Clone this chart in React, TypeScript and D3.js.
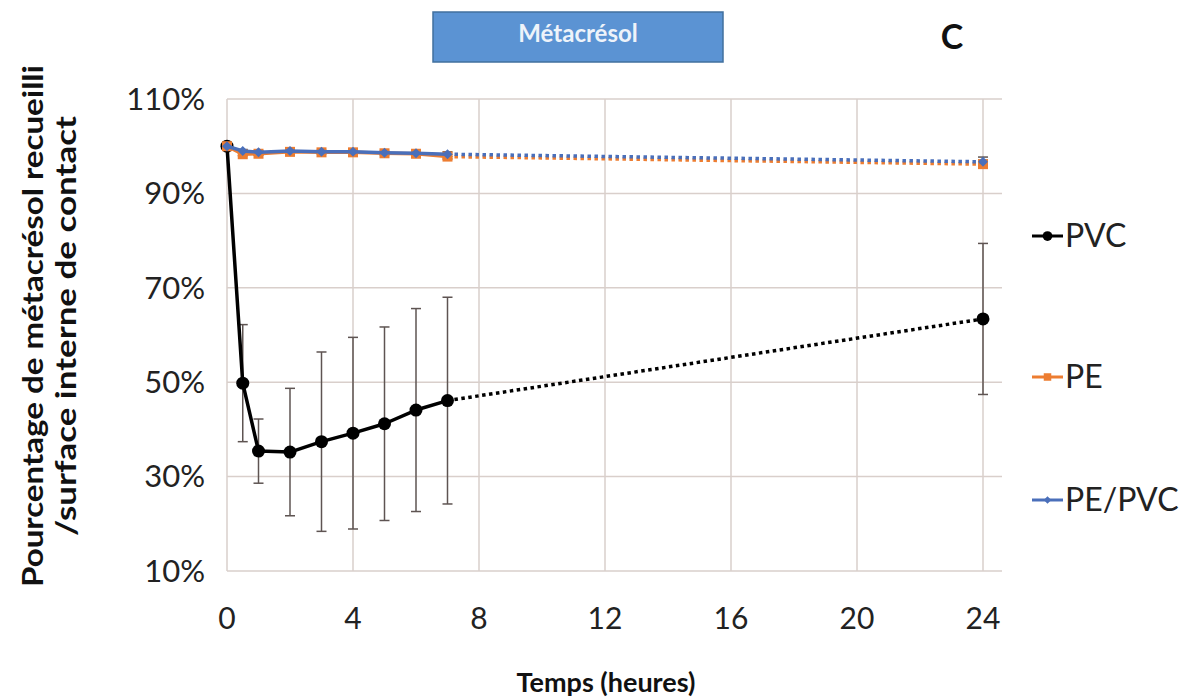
import React from "react";
import * as d3 from "d3";

const times = [0, 0.5, 1, 2, 3, 4, 5, 6, 7, 24];
const pvc = [100, 49.8, 35.4, 35.2, 37.4, 39.2, 41.2, 44.1, 46.1, 63.4];
const pvcErr = [0, 12.4, 6.8, 13.5, 19, 20.3, 20.5, 21.5, 21.9, 16];
const pe = [100, 98.3, 98.4, 98.8, 98.7, 98.7, 98.5, 98.4, 97.8, 96.2];
const peErr = [0, 0.3, 0.3, 0.3, 0.3, 0.3, 0.3, 0.3, 0.5, 0.8];
const pepvc = [100, 99.0, 98.7, 99.0, 98.8, 98.8, 98.6, 98.5, 98.3, 96.7];
const pepvcErr = [0, 0.3, 0.3, 0.3, 0.3, 0.3, 0.3, 0.3, 0.5, 1.0];
const xTicks = [0, 4, 8, 12, 16, 20, 24];
const yTicks = [10, 30, 50, 70, 90, 110];
const seriesNames = ["PVC", "PE", "PE/PVC"];

const FONT = "Lato, 'Open Sans', sans-serif";

export default function App() {
  const y = d3.scaleLinear().domain([10, 110]).range([571, 99]);
  const xGrid = d3.scaleLinear().domain([0, 24]).range([227, 983]);
  const xEnd = 1002;
  const line = d3
    .line<[number, number]>()
    .x((d) => xGrid(d[0]))
    .y((d) => y(d[1]));

  const series = [
    { name: seriesNames[0], vals: pvc, err: pvcErr, color: "#000000", marker: "circle" },
    { name: seriesNames[1], vals: pe, err: peErr, color: "#ed7d31", marker: "square" },
    { name: seriesNames[2], vals: pepvc, err: pepvcErr, color: "#4a6fba", marker: "diamond" },
  ];
  const errColor = "#5e5452";

  const marker = (kind: string, cx: number, cy: number, color: string, key: string, scale = 1) => {
    if (kind === "circle") return <circle key={key} cx={cx} cy={cy} r={6.5 * scale} fill={color} />;
    if (kind === "square")
      return <rect key={key} x={cx - 5 * scale} y={cy - 5 * scale} width={10 * scale} height={10 * scale} fill={color} />;
    const s = 5 * scale;
    return <path key={key} d={`M${cx},${cy - s} L${cx + s},${cy} L${cx},${cy + s} L${cx - s},${cy} Z`} fill={color} />;
  };

  const legendY = [236, 377, 500];

  return (
    <svg width={1204} height={698} style={{ position: "absolute", left: 0, top: 0, background: "#fff" }}>
      {yTicks.map((t) => (
        <line key={"gy" + t} x1={227} x2={xEnd} y1={y(t)} y2={y(t)} stroke="#d9cfcb" strokeWidth={1.5} />
      ))}
      {xTicks.map((t) => (
        <line key={"gx" + t} x1={xGrid(t)} x2={xGrid(t)} y1={99} y2={571} stroke="#d9cfcb" strokeWidth={1.5} />
      ))}
      {yTicks.map((t) => (
        <text key={"yl" + t} x={205} y={y(t)} dy="0.35em" textAnchor="end" fontFamily={FONT} fontSize={31} fill="#222">
          {t}%
        </text>
      ))}
      {xTicks.map((t) => (
        <text key={"xl" + t} x={xGrid(t)} y={618} dy="0.35em" textAnchor="middle" fontFamily={FONT} fontSize={30} fill="#222">
          {t}
        </text>
      ))}
      <text x={606} y={683} dy="0.35em" textAnchor="middle" fontFamily={FONT} fontSize={27} fontWeight="bold" fill="#111">
        Temps (heures)
      </text>
      <g transform="translate(33,326) rotate(-90)">
        <text x={0} y={0} dy="0.35em" textAnchor="middle" fontFamily={FONT} fontSize={29} fontWeight="bold" fill="#111"
          textLength={522} lengthAdjust="spacingAndGlyphs">
          Pourcentage de métacrésol recueilli
        </text>
        <text x={0} y={33} dy="0.35em" textAnchor="middle" fontFamily={FONT} fontSize={29} fontWeight="bold" fill="#111"
          textLength={420} lengthAdjust="spacingAndGlyphs">
          /surface interne de contact
        </text>
      </g>
      <rect x={433} y={12} width={290} height={50} fill="#5b93d3" stroke="#41709e" strokeWidth={1.5} />
      <text x={578} y={34} dy="0.35em" textAnchor="middle" fontFamily={FONT} fontSize={24} fontWeight="bold" fill="#eef3fa">
        Métacrésol
      </text>
      <text x={952} y={37} dy="0.35em" textAnchor="middle" fontFamily={FONT} fontSize={34} fontWeight="bold" fill="#111">
        C
      </text>
      {series.map((s) =>
        times.map((t, i) =>
          s.err[i] > 0 ? (
            <g key={s.name + "e" + i} stroke={errColor} strokeWidth={1.5}>
              <line x1={xGrid(t)} x2={xGrid(t)} y1={y(s.vals[i] - s.err[i])} y2={y(s.vals[i] + s.err[i])} />
              <line x1={xGrid(t) - 5} x2={xGrid(t) + 5} y1={y(s.vals[i] - s.err[i])} y2={y(s.vals[i] - s.err[i])} />
              <line x1={xGrid(t) - 5} x2={xGrid(t) + 5} y1={y(s.vals[i] + s.err[i])} y2={y(s.vals[i] + s.err[i])} />
            </g>
          ) : null
        )
      )}
      {series.map((s) => {
        const pts: [number, number][] = times.map((t, i) => [t, s.vals[i]]);
        const solid = pts.slice(0, 9);
        const dotted = pts.slice(8);
        return (
          <g key={s.name + "l"}>
            <path d={line(solid) || ""} fill="none" stroke={s.color} strokeWidth={3.5} strokeLinejoin="round" />
            <path d={line(dotted) || ""} fill="none" stroke={s.color} strokeWidth={3.5} strokeDasharray="3.5 3.5" />
            {pts.map((p, i) => marker(s.marker, xGrid(p[0]), y(p[1]), s.color, s.name + "m" + i))}
          </g>
        );
      })}
      {series.map((s, i) => (
        <g key={s.name + "lg"}>
          <line x1={1032} x2={1063} y1={legendY[i]} y2={legendY[i]} stroke={s.color} strokeWidth={3} />
          {marker(s.marker, 1047.5, legendY[i], s.color, s.name + "lgm", 0.75)}
          <text x={1065} y={legendY[i]} dy="0.35em" fontFamily={FONT} fontSize={32} fill="#222">
            {s.name}
          </text>
        </g>
      ))}
    </svg>
  );
}
